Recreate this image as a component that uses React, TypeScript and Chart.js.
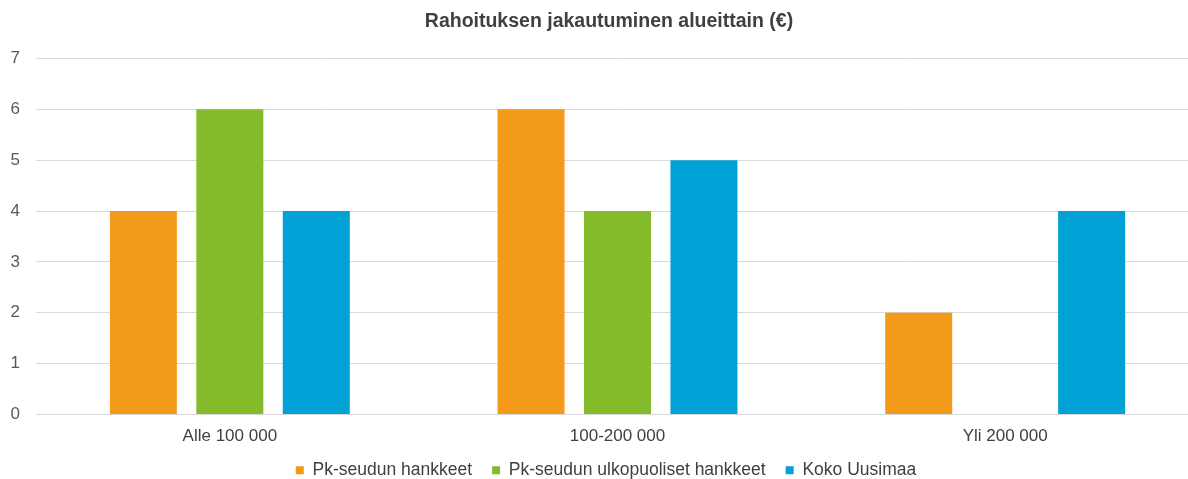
import React, { useEffect, useRef } from "react";
import { Chart, registerables } from "chart.js";

Chart.register(...registerables);

const categories = ["Alle 100 000", "100-200 000", "Yli 200 000"];
const seriesNames = ["Pk-seudun hankkeet", "Pk-seudun ulkopuoliset hankkeet", "Koko Uusimaa"];
const pkSeutu = [4, 6, 2];
const pkUlkopuoliset = [6, 4, 0];
const kokoUusimaa = [4, 5, 4];
const colors = ["#F39A1B", "#84BB2A", "#00A2D5"];
const titleText = "Rahoituksen jakautuminen alueittain (€)";

const CANVAS_W = 1218;
const CANVAS_H = 479;

const centerBlocks = {
  id: "centerBlocks",
  afterLayout(chart: any) {
    if (chart.titleBlock) {
      chart.titleBlock.left = 0;
      chart.titleBlock.right = chart.width;
      chart.titleBlock.width = chart.width;
    }
    if (chart.legend) {
      chart.legend.left = 0;
      chart.legend.right = chart.width - 6;
      chart.legend.width = chart.width - 6;
    }
  },
};

export default function App() {
  const ref = useRef<HTMLCanvasElement | null>(null);
  useEffect(() => {
    document.body.style.margin = "0";
    const ctx = ref.current!;
    const font = "'Liberation Sans', Arial, sans-serif";
    const chart = new Chart(ctx, {
      type: "bar",
      data: {
        labels: categories,
        datasets: [pkSeutu, pkUlkopuoliset, kokoUusimaa].map((d, i) => ({
          label: seriesNames[i],
          data: d,
          backgroundColor: colors[i],
          borderWidth: 0,
          categoryPercentage: 0.669,
          barPercentage: 0.775,
        })),
      },
      plugins: [centerBlocks],
      options: {
        animation: false,
        responsive: false,
        maintainAspectRatio: false,
        layout: { padding: { left: 0, right: 19, top: 0, bottom: -10 } },
        plugins: {
          title: {
            display: true,
            text: titleText,
            color: "#404040",
            font: { family: font, size: 19.5, weight: "bold" },
            padding: { top: 10.3, bottom: 24.8 },
          },
          legend: {
            position: "bottom",
            labels: {
              color: "#404040",
              font: { family: font, size: 17.5 },
              boxWidth: 8,
              boxHeight: 8,
              padding: 20,
            },
          },
          tooltip: { enabled: false },
        },
        scales: {
          x: {
            grid: { display: false, drawTicks: false },
            border: { display: false },
            ticks: {
              color: "#404040",
              font: { family: font, size: 17 },
              padding: 12,
              maxRotation: 0,
            },
            afterFit: (s: any) => {
              s.height = 27;
            },
          },
          y: {
            min: 0,
            max: 7,
            grid: { color: "#D9D9D9", lineWidth: 1, drawTicks: false },
            border: { display: false },
            ticks: {
              stepSize: 1,
              color: "#595959",
              font: { family: font, size: 17 },
              padding: 16,
            },
            afterFit: (s: any) => {
              s.width = 36;
            },
          },
        },
      },
    });
    return () => chart.destroy();
  }, []);
  return (
    <div style={{ width: 1188, height: 479, overflow: "hidden" }}>
      <canvas ref={ref} width={CANVAS_W} height={CANVAS_H} style={{ display: "block" }} />
    </div>
  );
}
